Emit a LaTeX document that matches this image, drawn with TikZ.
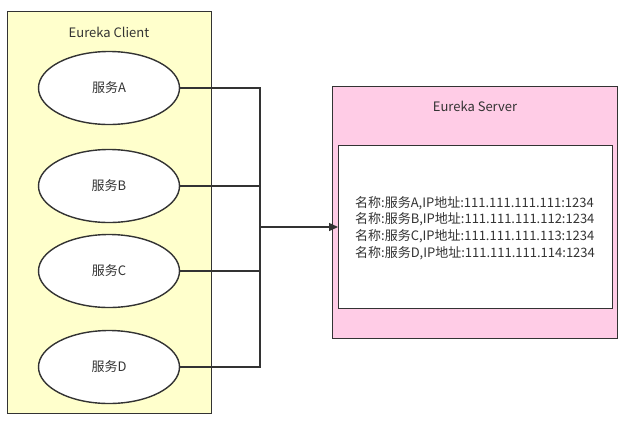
\documentclass[tikz,border=0pt]{standalone}
\usepackage{fontspec}
\setmainfont{Noto Sans CJK SC}
\usetikzlibrary{shapes.geometric,arrows.meta}
\definecolor{linec}{HTML}{333333}
\definecolor{clientfill}{HTML}{FFFFCC}
\definecolor{serverfill}{HTML}{FFCCE6}
\begin{document}
\begin{tikzpicture}[x=1pt,y=-1pt,
  every node/.style={font=\fontsize{13}{16.7}\selectfont, text=linec},
  boxc/.style={draw=linec, line width=1.4pt},
  svc/.style={ellipse, draw=linec, line width=1.4pt, fill=white, minimum width=141pt, minimum height=73pt, inner sep=0pt},
  conn/.style={draw=linec, line width=1.4pt}]
\useasboundingbox (0,0) rectangle (628,424);
\node[boxc, fill=clientfill, rectangle, minimum width=204pt, minimum height=402pt, anchor=north west, inner sep=0pt] (client) at (7,11) {};
\node (clientlbl) at (109,32) {Eureka Client};
\node[svc] (a) at (109,88) {服务A};
\node[svc] (b) at (109,186) {服务B};
\node[svc] (c) at (109,271) {服务C};
\node[svc] (d) at (109,367) {服务D};
\node[boxc, fill=serverfill, rectangle, minimum width=285pt, minimum height=252pt, anchor=north west, inner sep=0pt] (server) at (332,86) {};
\node (serverlbl) at (475,106) {Eureka Server};
\node[boxc, fill=white, rectangle, minimum width=274pt, minimum height=163pt, anchor=north west, inner sep=0pt] (inner) at (338,145) {};
\node[align=left, anchor=center] (list) at (475,228) {名称:服务A,IP地址:111.111.111.111:1234\\名称:服务B,IP地址:111.111.111.112:1234\\名称:服务C,IP地址:111.111.111.113:1234\\名称:服务D,IP地址:111.111.111.114:1234};
\coordinate (j) at (260,227);
\draw[conn] (a.east) -| (j);
\draw[conn] (b.east) -| (j);
\draw[conn] (c.east) -| (j);
\draw[conn] (d.east) -| (j);
\draw[conn, -{Triangle[length=9pt,width=8pt]}] (j) -- (j -| inner.west);
\end{tikzpicture}
\end{document}
